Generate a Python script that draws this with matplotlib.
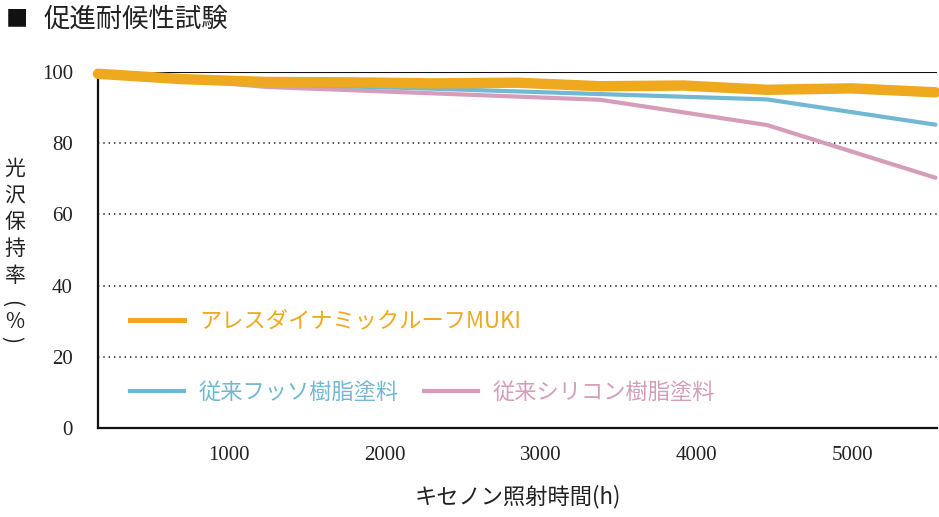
import matplotlib
matplotlib.use("Agg")
import matplotlib.pyplot as plt
from matplotlib.lines import Line2D

# ---- data ----
hours_main = [160, 1240, 2310, 3380, 4450, 5530]
hours_muki = [160, 700, 1240, 1775, 2310, 2845, 3380, 3915, 4450, 4990, 5530]
muki = [99.5, 98.0, 97.2, 97.1, 96.8, 97.0, 96.0, 96.2, 95.0, 95.4, 94.3]
fluoro = [100, 96.6, 95.3, 93.8, 92.3, 85.2]
silicone = [100, 95.8, 94.0, 92.2, 85.1, 70.3]
x_ticks = [1000, 2000, 3000, 4000, 5000]
y_ticks = [0, 20, 40, 60, 80, 100]
labels = ["アレスダイナミックルーフMUKI", "従来フッソ樹脂塗料", "従来シリコン樹脂塗料"]
title = "促進耐候性試験"
xlabel = "キセノン照射時間(h)"
ylabel_chars = ["光", "沢", "保", "持", "率", "(", "%", ")"]

C_ORANGE = "#EEA91F"
C_BLUE = "#72B8D3"
C_PINK = "#D59DBA"
JP = ["Noto Sans CJK JP", "DejaVu Sans"]
SERIF = "Liberation Serif"

W, H = 939, 517
fig = plt.figure(figsize=(W / 100, H / 100), dpi=100)
L, R, T, B = 98, 937, 72, 428
ax = fig.add_axes([L / W, 1 - B / H, (R - L) / W, (B - T) / H])

ax.plot(hours_main, silicone, color=C_PINK, lw=3.0, solid_capstyle="round",
        solid_joinstyle="round", zorder=3, clip_on=False, label=labels[2])
ax.plot(hours_main, fluoro, color=C_BLUE, lw=3.0, solid_capstyle="round",
        solid_joinstyle="round", zorder=4, clip_on=False, label=labels[1])
ax.plot(hours_muki, muki, color=C_ORANGE, lw=7.5, solid_capstyle="round",
        solid_joinstyle="round", zorder=5, clip_on=False, label=labels[0])

ax.set_xlim(160, 5540)
ax.set_ylim(0, 100)
ax.set_xticks(x_ticks)
ax.set_yticks(y_ticks)
ax.tick_params(length=0)
ax.tick_params(axis="y", pad=18)
ax.tick_params(axis="x", pad=13)
for t in ax.get_xticklabels() + ax.get_yticklabels():
    t.set_fontfamily(SERIF)
    t.set_fontsize(15)
    t.set_color("#222222")

for v in y_ticks[1:-1]:
    ax.axhline(v, color="#222222", lw=1.2, linestyle=(0, (0.8, 2.4)), zorder=1)
ax.axhline(100, color="#111111", lw=1.5, zorder=2)

for s in ["right", "top"]:
    ax.spines[s].set_visible(False)
for s in ["left", "bottom"]:
    ax.spines[s].set_linewidth(1.6)
    ax.spines[s].set_color("#111111")

# legends
h_or = Line2D([], [], color=C_ORANGE, lw=3.6)
h_bl = Line2D([], [], color=C_BLUE, lw=3.0)
h_pk = Line2D([], [], color=C_PINK, lw=3.0)
leg1 = ax.legend([h_or], [labels[0]], loc="center left",
                 bbox_to_anchor=((130 - L) / (R - L), (B - 321) / (B - T)),
                 frameon=False, prop={"family": JP, "size": 16},
                 handlelength=2.45, handletextpad=0.65, borderpad=0,
                 borderaxespad=0, labelcolor=[C_ORANGE])
ax.add_artist(leg1)
leg2 = ax.legend([h_bl, h_pk], [labels[1], labels[2]], loc="center left",
                 bbox_to_anchor=((130 - L) / (R - L), (B - 392) / (B - T)),
                 frameon=False, prop={"family": JP, "size": 16}, ncol=2,
                 handlelength=2.45, handletextpad=0.65, columnspacing=1.1,
                 borderpad=0, borderaxespad=0, labelcolor=[C_BLUE, C_PINK])

# title
fig.text(6 / W, 1 - 19 / H, "■", fontsize=16, family=JP, va="center",
         ha="left", color="#111111")
fig.text(44 / W, 1 - 19 / H, title, fontsize=19, family=JP, va="center",
         ha="left", color="#222222")

# x label
fig.text(518 / W, 1 - 497 / H, xlabel, fontsize=16, family=JP, va="center",
         ha="center", color="#222222")

# vertical y label (stacked characters, parentheses turned)
ys = [169, 195, 222, 249, 276, 304, 322, 340]
xs = [15, 15, 15, 15, 15, 11, 15, 11]
rots = [0, 0, 0, 0, 0, -90, 0, -90]
for ch, xx, yy, rot in zip(ylabel_chars, xs, ys, rots):
    fig.text(xx / W, 1 - yy / H, ch, fontsize=15, family=JP, va="center",
             ha="center", color="#222222", rotation=rot,
             rotation_mode="default")

fig.savefig("out.png", dpi=100)
